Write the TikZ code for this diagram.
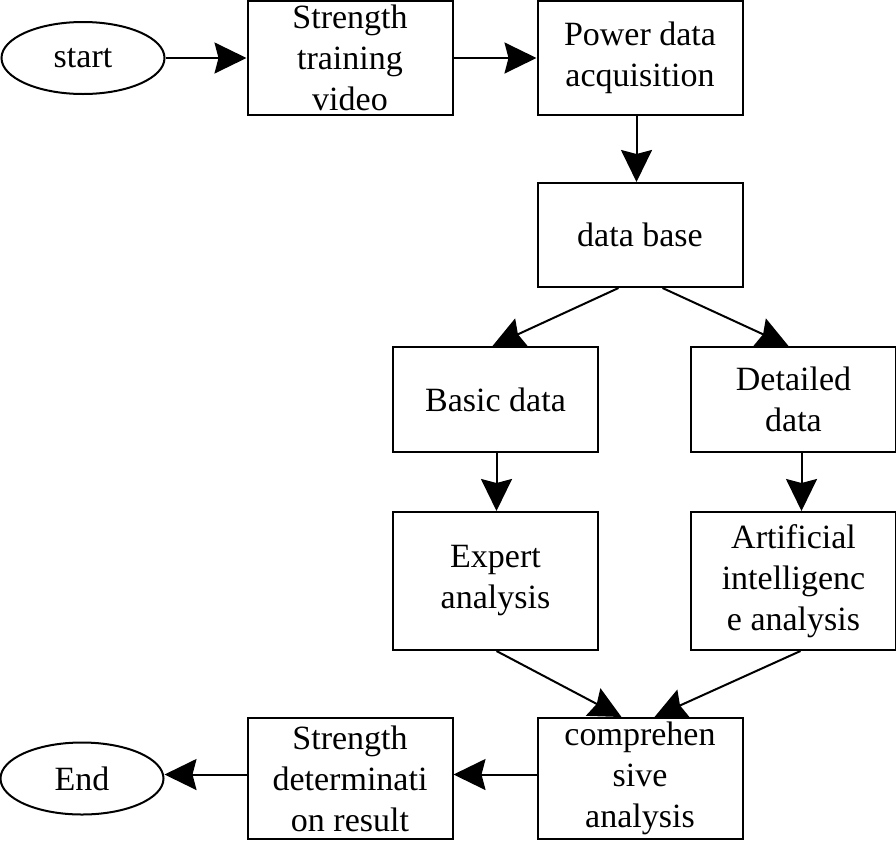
\documentclass[tikz,border=0pt]{standalone}
\usepackage{fontspec}
\setmainfont{Liberation Serif}
\usetikzlibrary{
    arrows.meta,
    positioning,
    shapes.geometric
}
\tikzset{
  box/.style     = {draw, line width=2pt, minimum width=205pt, inner sep=2pt,
                    align=center, font=\fontsize{34}{41}\selectfont},
  term/.style    = {draw, ellipse, line width=2pt, minimum width=163pt,
                    minimum height=72pt, inner sep=0pt,
                    font=\fontsize{34}{41}\selectfont},
  arr/.style     = {-{Stealth[length=32pt, width=31pt, inset=4pt]}, line width=2pt}
}

\begin{document}
\begin{tikzpicture}[x=1pt, y=1pt]
\useasboundingbox (0,0) rectangle (896,-841);

\node[term] (start) at (83,-58) {start};
\node[box, minimum height=114pt, right=81pt of start] (train) {Strength\\training\\video};
\node[box, minimum height=114pt, right=83pt of train] (power) {Power data\\acquisition};
\node[box, minimum height=104pt, below=66pt of power] (database) {data base};

\node[box, minimum height=105pt, below=58pt of database, xshift=-144.5pt] (basic) {Basic data};
\node[box, minimum height=105pt, right=91pt of basic] (detailed) {Detailed\\data};
\node[box, minimum height=138pt, below=58pt of basic] (expert) {Expert\\analysis};
\node[box, minimum height=138pt, below=58pt of detailed] (ai) {Artificial\\intelligenc\\e analysis};

\node[box, minimum height=121pt, below=66pt of expert, xshift=144.5pt] (comp) {comprehen\\sive\\analysis};
\node[box, minimum height=121pt, left=83pt of comp] (result) {Strength\\determinati\\on result};
\node[term, left=82pt of result] (end) {End};

% top row
\draw[arr] (start) -- (train);
\draw[arr] (train) -- (power);
\draw[arr] ([xshift=-3.5pt]power.south) -- ([xshift=-3.5pt]database.north);

% split
\draw[arr] ([xshift=-21.5pt]database.south) -- ([xshift=-3pt]basic.north);
\draw[arr] ([xshift=22.5pt]database.south) -- ([xshift=-5pt]detailed.north);
\draw[arr] ([xshift=1pt]basic.south) -- ([xshift=1pt]expert.north);
\draw[arr] ([xshift=8pt]detailed.south) -- ([xshift=8pt]ai.north);

% merge
\draw[arr] ([xshift=1pt]expert.south) -- ([xshift=-18.5pt]comp.north);
\draw[arr] ([xshift=7pt]ai.south) -- ([xshift=14.5pt]comp.north);
\draw[arr] ([yshift=4pt]comp.west) -- ([yshift=4pt]result.east);
\draw[arr] ([yshift=4pt]result.west) -- ([yshift=4pt]end.east);
\end{tikzpicture}
\end{document}
